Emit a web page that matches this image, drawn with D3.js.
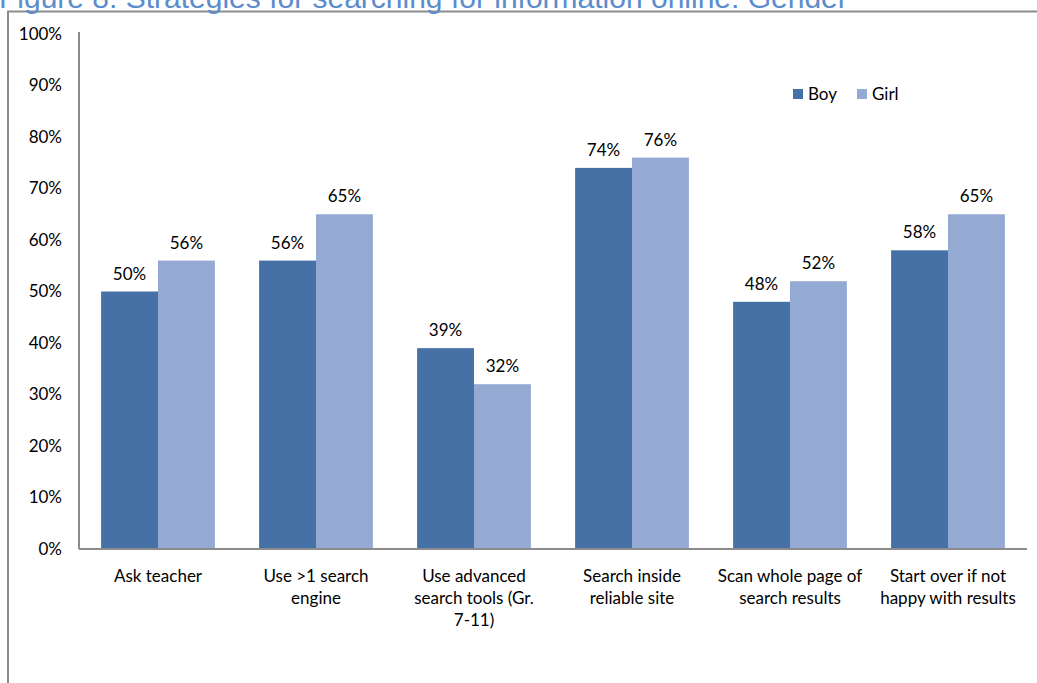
<!DOCTYPE html>
<html>
<head>
<meta charset="utf-8">
<script src="https://cdn.jsdelivr.net/npm/d3@7"></script>
<style>
  html, body { margin: 0; padding: 0; background: #fff; }
  svg { display: block; }
</style>
</head>
<body>
<svg id="chart" width="1037" height="683"></svg>
<script>
// Survey results: share of students using each search strategy, by gender
const categories = [
  ["Ask teacher"],
  ["Use >1 search", "engine"],
  ["Use advanced", "search tools (Gr.", "7-11)"],
  ["Search inside", "reliable site"],
  ["Scan whole page of", "search results"],
  ["Start over if not", "happy with results"]
];
const seriesNames = ["Boy", "Girl"];
const boyValues  = [50, 56, 39, 74, 48, 58];
const girlValues = [56, 65, 32, 76, 52, 65];
const yTicks = [0, 10, 20, 30, 40, 50, 60, 70, 80, 90, 100];

const colors = { Boy: "#4671a7", Girl: "#95aad2" };
const labelFont = "Lato, 'Open Sans', sans-serif";
const labelSize = 17;

const svg = d3.select("#chart");

// Outer frame (top and left edges)
svg.append("path")
  .attr("d", "M8,683 V11.5 H1037")
  .attr("fill", "none")
  .attr("stroke", "#8c8c8c")
  .attr("stroke-width", 2);

// Title (sits partly above the frame)
svg.append("text")
  .attr("x", -1)
  .attr("y", 8)
  .attr("fill", "#5b8ccc")
  .attr("font-family", "'Liberation Sans', Arial, sans-serif")
  .attr("font-size", 30)
  .text("Figure 8: Strategies for searching for information online: Gender");

const plot = { left: 79, right: 1027, top: 34, bottom: 549 };

const x0 = d3.scaleBand()
  .domain(d3.range(categories.length))
  .range([plot.left, plot.right])
  .paddingInner(0.28)
  .paddingOuter(0.14);

const x1 = d3.scaleBand()
  .domain(seriesNames)
  .range([0, x0.bandwidth()]);

const y = d3.scaleLinear().domain([0, 100]).range([plot.bottom, plot.top]);

const rows = categories.map((c, i) => ({ i, Boy: boyValues[i], Girl: girlValues[i] }));

// Bars
const groups = svg.append("g").selectAll("g")
  .data(rows)
  .join("g")
  .attr("transform", d => `translate(${x0(d.i)},0)`);

groups.selectAll("rect")
  .data(d => seriesNames.map(s => ({ s, v: d[s] })))
  .join("rect")
  .attr("x", d => x1(d.s))
  .attr("y", d => y(d.v))
  .attr("width", x1.bandwidth())
  .attr("height", d => y(0) - y(d.v))
  .attr("fill", d => colors[d.s]);

// Value labels
groups.selectAll("text.val")
  .data(d => seriesNames.map(s => ({ s, v: d[s] })))
  .join("text")
  .attr("class", "val")
  .attr("x", d => x1(d.s) + x1.bandwidth() / 2)
  .attr("y", d => y(d.v) - 12)
  .attr("text-anchor", "middle")
  .attr("font-family", labelFont)
  .attr("font-size", labelSize)
  .attr("fill", "#000")
  .text(d => d.v + "%");

// Y axis
const yAxis = d3.axisLeft(y)
  .tickValues(yTicks)
  .tickFormat(d => d + "%")
  .tickSize(0)
  .tickPadding(17);

const gy = svg.append("g")
  .attr("transform", `translate(${plot.left},0)`)
  .call(yAxis);
gy.select(".domain").attr("stroke", "#8c8c8c").attr("stroke-width", 2)
  .attr("d", `M0,${plot.top - 2}V${plot.bottom}`);
gy.selectAll("text")
  .attr("font-family", labelFont)
  .attr("font-size", labelSize)
  .attr("fill", "#000");

// X axis
const xAxis = d3.axisBottom(x0).tickSize(0).tickFormat("");
const gx = svg.append("g")
  .attr("transform", `translate(0,${plot.bottom})`)
  .call(xAxis);
gx.select(".domain").attr("stroke", "#8c8c8c").attr("stroke-width", 2)
  .attr("d", `M${plot.left},0H${plot.right}`);

// Category labels (multi-line)
const catLabels = svg.append("g").selectAll("text")
  .data(categories)
  .join("text")
  .attr("text-anchor", "middle")
  .attr("font-family", labelFont)
  .attr("font-size", labelSize)
  .attr("fill", "#000")
  .attr("transform", (d, i) => `translate(${x0(i) + x0.bandwidth() / 2},582)`);

catLabels.selectAll("tspan")
  .data(d => d)
  .join("tspan")
  .attr("x", 0)
  .attr("y", (d, j) => j * 22)
  .text(d => d);

// Legend
const legend = svg.append("g").attr("transform", "translate(793,89)");
const items = legend.selectAll("g")
  .data(seriesNames)
  .join("g")
  .attr("transform", (d, i) => `translate(${i * 64},0)`);
items.append("rect")
  .attr("width", 10).attr("height", 10)
  .attr("fill", d => colors[d]);
items.append("text")
  .attr("x", 15)
  .attr("y", 11)
  .attr("font-family", labelFont)
  .attr("font-size", labelSize)
  .attr("fill", "#000")
  .text(d => d);
</script>
</body>
</html>
